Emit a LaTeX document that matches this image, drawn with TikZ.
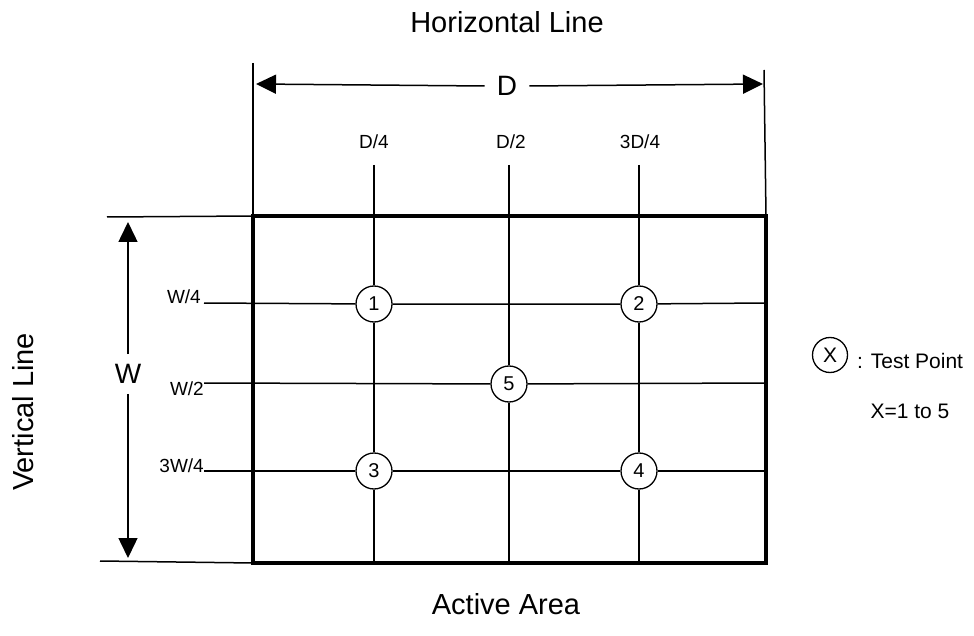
\documentclass[tikz,border=0pt]{standalone}
\usepackage{fontspec}
\setmainfont{Liberation Sans}
\usetikzlibrary{arrows.meta}
\begin{document}
\begin{tikzpicture}[x=1pt,y=-1pt,
  thin line/.style={line width=1.5pt},
  frame/.style={line width=3.5pt},
  tp/.style={circle,draw,line width=1.3pt,fill=white,minimum size=36pt,inner sep=0pt,font=\fontsize{20}{22}\selectfont},
  small/.style={inner sep=0pt,font=\fontsize{19}{21}\selectfont},
  big/.style={inner sep=0pt,font=\fontsize{28}{32}\selectfont},
  dimarrow/.style={thin line,-{Triangle[length=20pt,width=19pt]}},
]
\useasboundingbox (0,0) rectangle (974,636);
% frame corners
\coordinate (tl) at (253,216);
\coordinate (tr) at (766,216);
\coordinate (br) at (766,563);
\coordinate (bl) at (253,563);
% extension lines
\coordinate (extLt) at (253,63);
\coordinate (extRt) at (764,70);
\coordinate (extTl) at (107,217);
\coordinate (extBl) at (100,561);
\draw[thin line] (extLt) -- (tl);
\draw[thin line] (extRt) -- (tr);
\draw[thin line] (extTl) -- (tl);
\draw[thin line] (extBl) -- (bl);
% test points
\node[tp] (tp1) at (374,304) {1};
\node[tp] (tp2) at (639,304) {2};
\node[tp] (tp5) at (509,384) {5};
\node[tp] (tp3) at (374,471) {3};
\node[tp] (tp4) at (639,471) {4};
% vertical grid lines
\coordinate (v1t) at (374,165); \coordinate (v1b) at (374,563);
\coordinate (v2t) at (509,165); \coordinate (v2b) at (509,563);
\coordinate (v3t) at (639,165); \coordinate (v3b) at (639,563);
\draw[thin line] (v1t) -- (tp1) -- (tp3) -- (v1b);
\draw[thin line] (v2t) -- (tp5) -- (v2b);
\draw[thin line] (v3t) -- (tp2) -- (tp4) -- (v3b);
% horizontal grid lines
\coordinate (h1l) at (204,303); \coordinate (h1r) at (766,303);
\coordinate (h2l) at (204,383); \coordinate (h2r) at (766,383);
\coordinate (h3l) at (204,471); \coordinate (h3r) at (766,471);
\draw[thin line] (h1l) -- (tp1) -- (tp2) -- (h1r);
\draw[thin line] (h2l) -- (tp5) -- (h2r);
\draw[thin line] (h3l) -- (tp3) -- (tp4) -- (h3r);
% frame
\draw[frame,line join=miter] (tl) -- (tr) -- (br) -- (bl) -- cycle;
% D dimension
\node[big] (D) at (507,86) {D};
\coordinate (dL) at (256,84);
\coordinate (dR) at (763,84);
\draw[dimarrow] (D.west) ++(-12,0) -- (dL);
\draw[dimarrow] (D.east) ++(12,0) -- (dR);
% W dimension
\node[big] (W) at (128,374) {W};
\coordinate (wT) at (128,222);
\coordinate (wB) at (128,558);
\draw[dimarrow] (W.north) ++(0,-10) -- (wT);
\draw[dimarrow] (W.south) ++(0,10) -- (wB);
% labels
\node[small] (ld1) at (374,142) {D/4};
\node[small] (ld2) at (511,142) {D/2};
\node[small] (ld3) at (640,142) {3D/4};
\node[small,anchor=east] (lw1) at (201,297) {W/4};
\node[small,anchor=east] (lw2) at (204,389) {W/2};
\node[small,anchor=east] (lw3) at (204,466) {3W/4};
\node[big,font=\fontsize{29}{32}\selectfont] (hl) at (507,22) {Horizontal Line};
\node[big,font=\fontsize{29}{32}\selectfont] (aa) at (506,604) {Active Area};
\node[big,font=\fontsize{29}{32}\selectfont,rotate=90] (vl) at (23,412) {Vertical Line};
% legend
\node[circle,draw,line width=1.3pt,minimum size=35pt,inner sep=0pt,font=\fontsize{21}{23}\selectfont] (lx) at (830,355) {X};
\node[inner sep=0pt,anchor=west,font=\fontsize{21}{24}\selectfont] (ltp) at (857,361) {: Test Point};
\node[inner sep=0pt,font=\fontsize{21}{24}\selectfont] (lrange) at (910,411) {X=1 to 5};
\end{tikzpicture}
\end{document}
